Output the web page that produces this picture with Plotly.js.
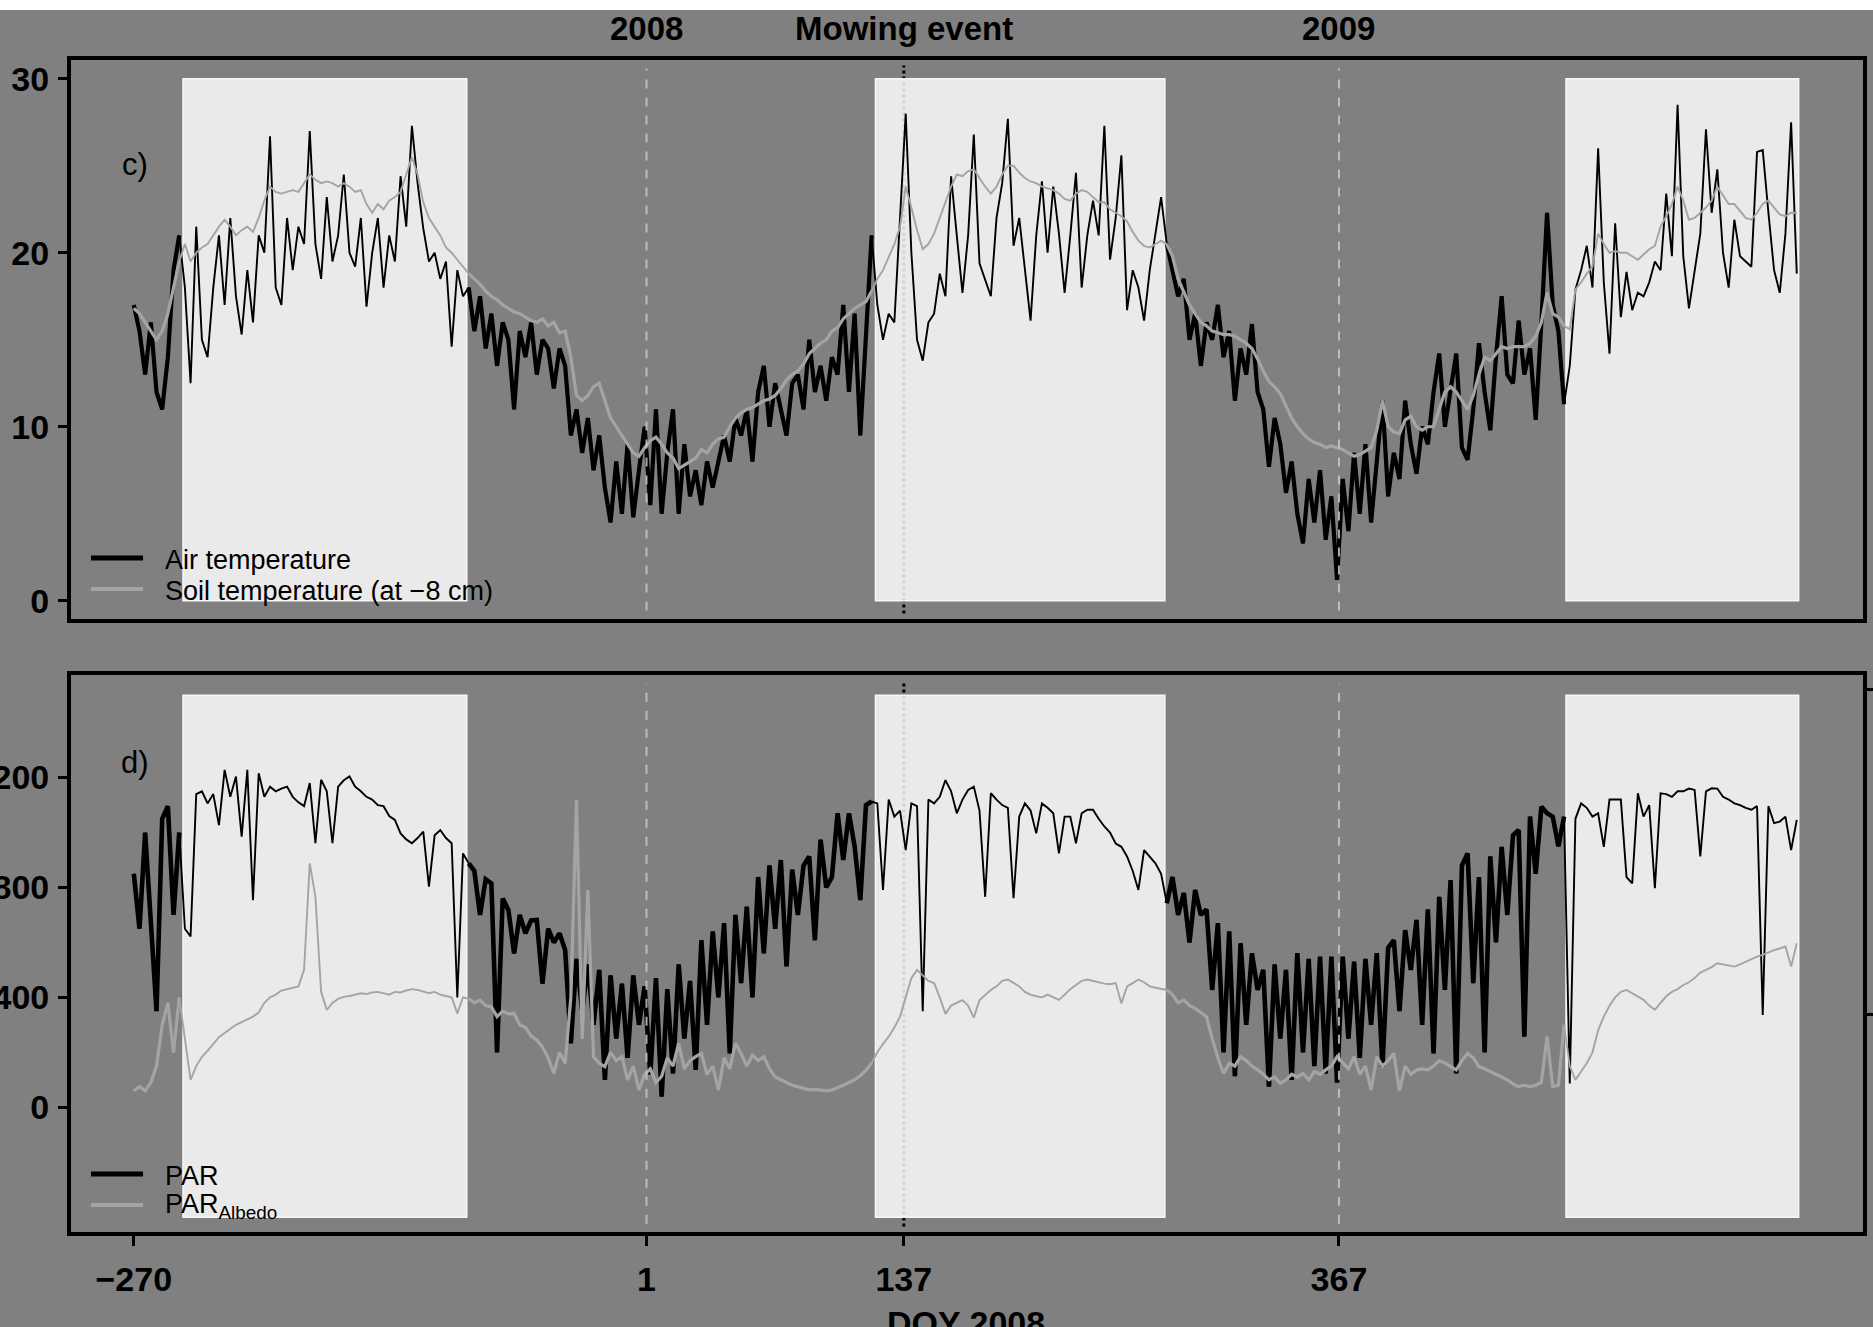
<!DOCTYPE html>
<html><head><meta charset="utf-8">
<script src="https://cdn.plot.ly/plotly-3.0.1.min.js"></script>
<style>html,body{margin:0;padding:0;background:#808080;overflow:hidden;} #chart{width:1873px;height:1327px;}</style>
</head><body><div id="chart"></div>
<script>
// ---- data (one value every 3 days, first day = -270, DOY relative to 2008) ----
const dayStart = -270;
const dayStep = 3;

const airTemp = [
  17,15.5,13,16,12,11,14,19,21,
  18,12.5,21.5,15,14,18,21,17,22,17.5,15.3,19,16,21,20,26.7,18,17,22,19,21.5,20.5,27,20.5,18.5,23.2,19.5,21,24.5,20,19.2,22,16.9,20,22,18,21,19.5,24.4,21.5,27.3,24,21.4,19.5,20,18.5,19.5,14.6,19,17.5,
  18,15.5,17.5,14.5,16.5,13.5,16,15,11,15.5,14,16,13,15,14.5,12.2,14.5,13.5,9.5,11,8.5,10.5,7.5,9.5,6.5,4.5,8,5,9,4.8,7.5,10,5.5,11,5,8.5,11,5,9,6,7.5,5.5,8,6.5,8,9.5,8,10.5,9.5,11,8,12,13.5,10,12.5,11,9.5,12.5,13,11,15,12,13.5,11.5,14,13,17,12,16.5,9.5,15,21,
  17,15,16.5,16,22,28,20,15,13.8,16,16.5,18.8,17.5,24.4,21,17.7,21,26.8,19.4,18.5,17.5,22,24,27.7,20.4,22,19,16.1,21,24.1,20,23.8,21.1,17.7,21,24.6,18,21,23,21,27.3,19.6,22,25.6,16.7,19,18,16.1,19,21,23.2,
  20.5,19,17.5,18.5,15,16.5,13.5,16,15,17,14,15.5,11.5,14.5,13,15.9,12,11,7.7,10.5,9,6.2,8,5,3.3,7,4.5,7.5,3.5,6,1.2,7,4,8.5,5,9,4.5,8,11.5,6,8.5,7,11.5,9,7.3,10,9,12,14.2,10,12,14.2,8.8,8.1,11,14.8,12,9.8,14,17.5,13,12.5,16.1,13,14.5,10.4,16,22.3,17,15.5,11.3,
  13.5,17.9,19,20.4,18,26,18.3,14.2,21.7,16.3,18.9,16.7,17.7,17.5,18.3,19.5,19,23.4,19.8,28.5,19.8,16.8,19,21.1,27.1,22.3,24.8,20,18,21.9,19.8,19.5,19.2,25.8,25.9,22.3,19,17.7,21.1,27.5,18.8
];

const soilTemp = [
  16.8,16.5,16,15.5,15,15.5,16.5,18,19.5,
  20.5,19.5,20,20.3,20.5,21,21.5,21.9,21.5,21,21.3,21.5,21.2,22,23,23.8,23.5,23.4,23.5,23.6,23.5,24,24.5,24.2,24,24.1,24,23.8,24,23.8,23.5,23.6,22.8,22.3,22.8,22.5,23,23.2,23.5,24.5,25.5,24.5,22.9,22,21.5,21,20.3,20,19.6,19.2,
  18.8,18.5,18.2,17.8,17.5,17.3,17,16.8,16.6,16.5,16.3,16.1,16,16.2,15.8,16,15.4,15.5,14,11.8,11.5,11.8,12.3,12.5,11.5,10.5,10,9.5,9,8.5,8.3,8.8,9.2,9.4,9,8.5,8.2,7.6,7.8,8,8.2,8.7,8.5,9,9.3,9.4,10,10.5,10.8,11,11.1,11.3,11.5,11.6,11.8,12.2,12.7,13,13.2,13.6,14.2,14.5,14.8,15,15.5,15.7,16.2,16.5,16.8,17,17.2,17.8,
  18.5,19,19.8,20.5,21.5,23.8,22.6,21.3,20.2,20.5,21.1,22,23,23.8,24.5,24.4,24.7,24.8,24.3,23.8,23.4,23.8,24.5,25,25,24.6,24.3,24.1,24,23.8,23.7,23.6,23.4,23.1,23,23.4,23.6,23.5,23.2,22.9,22.9,22.5,22.3,22.1,21.8,21.2,20.7,20.4,20.3,20.5,20.7,
  20.5,19.8,18.5,17.8,17,16.5,16,15.8,15.5,15.4,15.3,15.3,15.2,15,14.8,14.5,13.9,13.2,12.6,12.3,11.9,11.2,10.5,10,9.6,9.3,9.1,9,8.8,8.9,8.8,8.7,8.5,8.3,8.4,8.6,8.8,9.8,11.5,10,9.7,9.6,10.4,10.6,10,9.8,10,10,11,12,12.3,12,11.5,11,11.8,13,14,13.8,14.2,14.6,14.5,14.6,14.6,14.6,14.8,15.2,16,17.7,16.5,16.3,15.8,
  15.6,17.9,18.3,18.8,19.2,21.1,20.5,20,20.1,20,20,19.8,19.6,19.9,20.2,20.4,21.5,22.1,22.8,23.8,23,21.9,22,22.3,22.6,23,23.8,23.3,22.8,22.8,22.4,22,21.9,22.3,22.8,23,22.6,22.2,22.1,22.3,22.3
];

const par = [
  850,650,1000,700,350,1050,1096,700,1000,
  650,622,1140,1150,1106,1140,1027,1228,1130,1204,985,1228,754,1216,1130,1167,1150,1160,1167,1130,1110,1096,1180,961,1192,1150,961,1167,1190,1204,1167,1150,1130,1120,1100,1096,1060,1046,997,975,961,980,1003,803,990,1009,980,961,400,924,
  888,860,700,830,815,200,760,718,560,700,633,680,682,450,650,600,633,572,233,540,350,520,300,500,100,480,250,450,180,480,300,440,120,470,39,430,123,520,250,460,136,608,300,640,400,670,196,700,452,730,400,838,560,880,650,900,513,865,700,880,913,608,974,800,838,1070,900,1070,950,754,1100,1113,
  1106,791,1120,1058,1080,936,1106,1096,350,1120,1106,1130,1191,1150,1070,1120,1155,1167,1080,766,1143,1120,1100,1090,761,1058,1106,1080,997,1106,1090,1070,924,1058,1058,961,1070,1083,1083,1050,1022,1000,960,948,913,860,791,936,910,888,850,
  743,838,700,780,600,791,700,720,427,670,200,640,113,597,300,560,427,500,75,520,250,500,100,561,200,540,150,548,123,548,90,548,250,530,180,540,300,561,148,580,608,350,645,500,682,300,720,196,766,427,827,123,880,924,452,838,200,913,600,948,700,990,1009,257,1058,850,1094,1070,1058,950,1058,
  87,1050,1106,1090,1058,1070,948,1120,1120,1120,838,815,1143,1058,1100,797,1143,1140,1130,1150,1150,1160,1155,913,1150,1161,1160,1130,1120,1106,1100,1090,1083,1096,336,1096,1034,1040,1058,936,1046
];

const parAlbedo = [
  60,75,60,90,150,300,380,200,400,
  250,100,150,184,205,230,255,270,285,300,310,320,330,345,380,400,410,425,430,435,440,500,888,766,420,354,380,395,402,405,410,415,412,418,420,415,410,420,418,425,430,427,420,415,420,410,405,400,342,400,
  395,380,390,370,365,330,350,340,342,300,290,260,245,220,180,123,200,160,400,1118,250,791,184,160,148,200,170,184,100,150,63,120,140,90,113,180,150,233,140,170,184,196,120,150,63,180,140,233,196,150,190,170,184,140,110,100,87,80,75,70,63,65,63,60,63,70,80,90,100,115,135,161,
  200,230,257,290,330,400,470,500,480,460,452,400,340,370,380,390,370,326,390,410,427,440,460,465,452,440,420,410,404,400,410,400,391,410,430,445,460,465,460,455,450,448,452,378,440,452,465,455,440,435,430,
  427,410,380,391,370,360,345,330,250,180,123,160,150,184,170,150,136,120,100,110,87,100,120,110,123,100,130,120,136,150,184,161,140,184,120,150,63,184,150,170,196,60,150,120,136,140,136,150,170,161,150,136,170,196,180,148,140,130,120,113,100,85,75,80,75,80,90,257,75,80,300,
  150,100,130,160,200,280,330,370,400,420,427,415,400,391,370,355,380,404,420,430,445,455,470,490,500,510,524,520,515,512,520,530,540,548,555,565,572,578,585,512,597
];

const seasonStart = [-244, 122, 487];
const seasonEnd = [-94, 275, 610];
const mowingDay = 137;
const yearStartDays = [1, 367];
const yearLabels = ['2008', '2009'];
const doyTicks = [-270, 1, 137, 367];
const doyTickText = ['\u2212270', '1', '137', '367'];
const tempTicks = [0, 10, 20, 30];
const parTicks = [0, 400, 800, 1200];
const rightTicks = [336, 1519];   // tick marks of the (cropped) right-hand axis of panel d
const tempShade = [0, 30];
const parShade = [-400, 1500];

// ---- styling helpers ----
const W = 1873, H = 1327;
const px = v => v / W;          // figure px -> paper x
const py = v => 1 - v / H;      // figure px (from top) -> paper y
const FONT = '"Liberation Sans", Arial, Helvetica, sans-serif';
const GREY = '#a4a4a4';

function inSeason(d) {
  for (let k = 0; k < seasonStart.length; k++) if (d > seasonStart[k] && d < seasonEnd[k]) return true;
  return false;
}
function outsideOnly(arr) {
  return arr.map((v, i) => inSeason(dayStart + i * dayStep) ? null : v);
}

function trace(y, xa, ya, color, width) {
  return {type: 'scatter', mode: 'lines', x0: dayStart, dx: dayStep, y: y, xaxis: xa, yaxis: ya,
          line: {color: color, width: width}, connectgaps: false, hoverinfo: 'skip', showlegend: false};
}

const data = [
  trace(airTemp, 'x', 'y', '#000', 1.9),
  trace(outsideOnly(airTemp), 'x', 'y', '#000', 4.2),
  trace(soilTemp, 'x', 'y', GREY, 1.9),
  trace(outsideOnly(soilTemp), 'x', 'y', GREY, 3.2),
  trace(par, 'x2', 'y2', '#000', 1.9),
  trace(outsideOnly(par), 'x2', 'y2', '#000', 4.6),
  trace(parAlbedo, 'x2', 'y2', GREY, 1.9),
  trace(outsideOnly(parAlbedo), 'x2', 'y2', GREY, 3.2)
];

const shapes = [];
// mowing event (dotted black) below the shading
[['x', 'y'], ['x2', 'y2']].forEach(([xa, ya]) => {
  shapes.push({type: 'line', layer: 'below', xref: xa, yref: ya + ' domain', x0: mowingDay, x1: mowingDay,
               y0: 0.01, y1: 0.99, line: {color: '#000', width: 3, dash: 'dot'}});
});
// growing season shading
for (let k = 0; k < seasonStart.length; k++) {
  [['x', 'y', tempShade], ['x2', 'y2', parShade]].forEach(([xa, ya, yr]) => {
    shapes.push({type: 'rect', layer: 'below', xref: xa, yref: ya, x0: seasonStart[k], x1: seasonEnd[k],
                 y0: yr[0], y1: yr[1], fillcolor: 'rgba(255,255,255,0.83)',
                 line: {color: 'rgba(250,250,250,0.95)', width: 1.5}});
  });
}
// year boundaries (dashed light)
yearStartDays.forEach(d => {
  [['x', 'y'], ['x2', 'y2']].forEach(([xa, ya]) => {
    shapes.push({type: 'line', layer: 'above', xref: xa, yref: ya + ' domain', x0: d, x1: d,
                 y0: 0.015, y1: 0.985, line: {color: 'rgba(200,200,200,0.85)', width: 2, dash: 'dash'}});
  });
});
// legend keys
const legendKeys = [[558, '#000', 5], [589, GREY, 4], [1174, '#000', 5], [1205, GREY, 4]];
legendKeys.forEach(([yy, c, w]) => {
  shapes.push({type: 'line', xref: 'paper', yref: 'paper', x0: px(91), x1: px(143), y0: py(yy), y1: py(yy),
               line: {color: c, width: w}});
});
// white strip at the very top
shapes.push({type: 'rect', xref: 'paper', yref: 'paper', x0: 0, x1: 1, y0: py(10), y1: 1.01,
             fillcolor: '#ffffff', line: {width: 0}, layer: 'above'});

const boldFont = {family: FONT, size: 34, color: '#000', weight: 'bold'};
const annotations = [];
yearStartDays.forEach((d, i) => annotations.push({xref: 'x', yref: 'paper', x: d, y: py(29), text: yearLabels[i],
  showarrow: false, xanchor: 'center', yanchor: 'middle', font: {family: FONT, size: 33, color: '#000', weight: 'bold'}}));
annotations.push({xref: 'x', yref: 'paper', x: mowingDay, y: py(29), text: 'Mowing event', showarrow: false,
  xanchor: 'center', yanchor: 'middle', font: {family: FONT, size: 33, color: '#000', weight: 'bold'}});
annotations.push({xref: 'paper', yref: 'paper', x: px(135), y: py(165), text: 'c)', showarrow: false,
  xanchor: 'center', yanchor: 'middle', font: {family: FONT, size: 31, color: '#000'}});
annotations.push({xref: 'paper', yref: 'paper', x: px(135), y: py(762), text: 'd)', showarrow: false,
  xanchor: 'center', yanchor: 'middle', font: {family: FONT, size: 31, color: '#000'}});
const legendTexts = [[560, 'Air temperature'], [591, 'Soil temperature (at \u22128 cm)'], [1176, 'PAR'], [1206, 'PAR<sub>Albedo</sub>']];
legendTexts.forEach(([yy, t]) => annotations.push({xref: 'paper', yref: 'paper', x: px(163), y: py(yy), text: t,
  showarrow: false, xanchor: 'left', yanchor: 'middle', font: {family: FONT, size: 27, color: '#000'}}));
annotations.push({xref: 'paper', yref: 'paper', x: px(966), y: py(1302), text: 'DOY 2008', showarrow: false,
  xanchor: 'center', yanchor: 'top', font: boldFont});

const axisCommon = {showline: true, mirror: true, linecolor: '#000', linewidth: 4, showgrid: false, zeroline: false,
                    tickcolor: '#000', tickwidth: 3, tickfont: boldFont, fixedrange: true};
const xDomain = [px(71), px(1863)];
const xRange = [-303.2, 644.0];
const parDomain = [py(1232), py(675)];
const parRange = [-454, 1573.4];

const layout = {
  width: W, height: H,
  margin: {l: 0, r: 0, t: 0, b: 0, pad: 0},
  paper_bgcolor: '#808080', plot_bgcolor: '#808080',
  showlegend: false,
  xaxis: Object.assign({}, axisCommon, {domain: xDomain, range: xRange, anchor: 'y', ticks: '', showticklabels: false}),
  yaxis: Object.assign({}, axisCommon, {domain: [py(619), py(60)], range: [-1.05, 31.08], anchor: 'x',
           tickmode: 'array', tickvals: tempTicks, ticks: 'outside', ticklen: 9, ticklabelstandoff: 2}),
  xaxis2: Object.assign({}, axisCommon, {domain: xDomain, range: xRange, anchor: 'y2', tickmode: 'array',
           tickvals: doyTicks, ticktext: doyTickText, ticks: 'outside', ticklen: 10, ticklabelstandoff: 4}),
  yaxis2: Object.assign({}, axisCommon, {domain: parDomain, range: parRange, anchor: 'x2',
           tickmode: 'array', tickvals: parTicks, ticks: 'outside', ticklen: 9, ticklabelstandoff: 2}),
  yaxis3: {overlaying: 'y2', side: 'right', anchor: 'x2', range: parRange, showline: false, showgrid: false,
           zeroline: false, tickmode: 'array', tickvals: rightTicks, ticks: 'outside', ticklen: 9, tickwidth: 3,
           tickcolor: '#000', showticklabels: false, fixedrange: true},
  shapes: shapes,
  annotations: annotations
};

// invisible trace so that the right-hand axis is drawn
data.push({type: 'scatter', mode: 'lines', x: [], y: [], xaxis: 'x2', yaxis: 'y3', hoverinfo: 'skip', showlegend: false});

Plotly.newPlot('chart', data, layout, {staticPlot: true, displayModeBar: false});
</script>
</body></html>
